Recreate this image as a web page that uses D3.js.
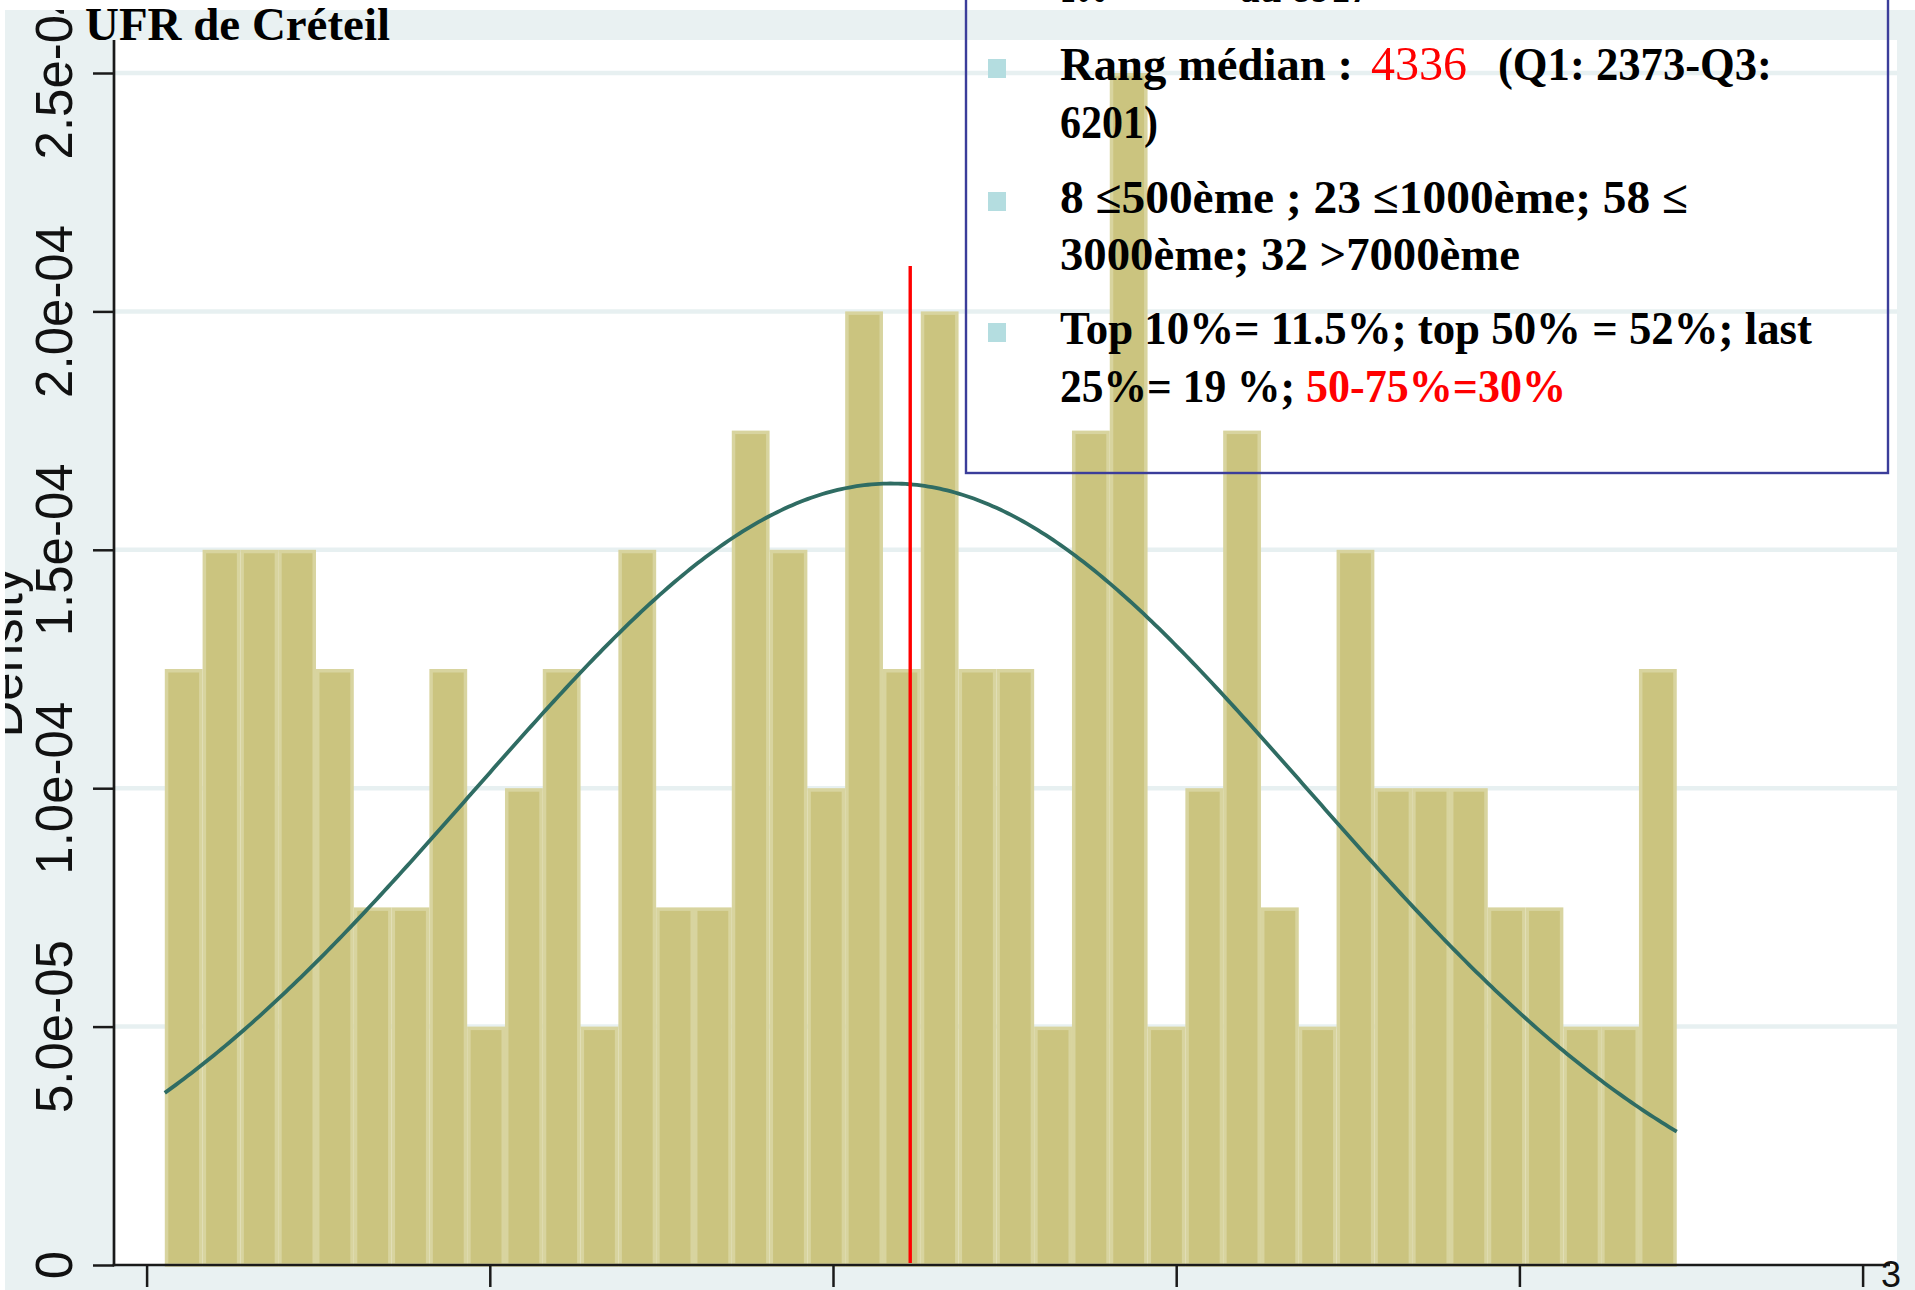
<!DOCTYPE html>
<html><head><meta charset="utf-8">
<script src="https://cdn.jsdelivr.net/npm/d3@7"></script>
<style>html,body{margin:0;padding:0;background:#fff;overflow:hidden}</style>
</head><body>
<svg id="c" width="1915" height="1290"></svg>
<script>
// ---- data ----
const densities = [1.25e-4,1.5e-4,1.5e-4,1.5e-4,1.25e-4,0.75e-4,0.75e-4,1.25e-4,0.5e-4,1.0e-4,
  1.25e-4,0.5e-4,1.5e-4,0.75e-4,0.75e-4,1.75e-4,1.5e-4,1.0e-4,2.0e-4,1.25e-4,
  2.0e-4,1.25e-4,1.25e-4,0.5e-4,1.75e-4,2.5e-4,0.5e-4,1.0e-4,1.75e-4,0.75e-4,
  0.5e-4,1.5e-4,1.0e-4,1.0e-4,1.0e-4,0.75e-4,0.75e-4,0.5e-4,0.5e-4,1.25e-4];
const rankRange = [106, 8917];          // histogram start / end (rank)
const normalMean = 4340;                 // fitted normal curve
const normalSd = 2434;
const markerRank = 4450;                 // red vertical line
const markerTop = 2.095e-4;
const xTicks = [0, 2000, 4000, 6000, 8000, 10000];
const yTicks = [0, 5e-5, 1e-4, 1.5e-4, 2e-4, 2.5e-4];
const yTickLabels = ["0", "5.0e-05", "1.0e-04", "1.5e-04", "2.0e-04", "2.5e-04"];
const yTitle = "Density";
const slideTitle = "UFR de Créteil";
const pageMark = "3";
const topCutText = [["106", 1060, 47], ["au 8917", 1240, 130]];
// text box lines: [text, x, width, baseline, color, weight, size]
const boxLines = [
  ["Rang médian :", 1060, 293, 80, "#000", "bold", 46],
  ["4336", 1371, 96, 80, "#ff0000", "normal", 49],
  ["(Q1: 2373-Q3:", 1498, 274, 80, "#000", "bold", 46],
  ["6201)", 1060, 98, 138, "#000", "bold", 46],
  ["8 ≤500ème ; 23 ≤1000ème; 58 ≤", 1060, 628, 213, "#000", "bold", 46],
  ["3000ème; 32 >7000ème", 1060, 460, 270, "#000", "bold", 46],
  ["Top 10%= 11.5%; top 50% = 52%; last", 1060, 752, 344, "#000", "bold", 46],
  ["25%= 19 %;", 1060, 235, 402, "#000", "bold", 46],
  ["50-75%=30%", 1306, 260, 402, "#ff0000", "bold", 46]
];
const bulletBaselines = [80, 213, 344];

// ---- drawing ----
const svg = d3.select("#c");
const x = d3.scaleLinear().domain([0, 10000]).range([146.6, 1862.6]);
const y = d3.scaleLinear().domain([0, 2.5e-4]).range([1265, 73]);
const plot = {l: 114, t: 40, r: 1897, b: 1265};

svg.append("rect").attr("width", 1915).attr("height", 1290).attr("fill", "#fff");
svg.append("clipPath").attr("id", "gr").append("rect")
  .attr("x", 5).attr("y", 10).attr("width", 1910).attr("height", 1280);
const g = svg.append("g").attr("clip-path", "url(#gr)");

g.append("rect").attr("x", 5).attr("y", 10).attr("width", 1910).attr("height", 1280).attr("fill", "#e9f1f2");
g.append("rect").attr("x", plot.l).attr("y", plot.t).attr("width", plot.r - plot.l).attr("height", plot.b - plot.t).attr("fill", "#fff");

// gridlines
g.selectAll(".grid").data(yTicks.slice(1)).enter().append("line")
  .attr("x1", plot.l).attr("x2", plot.r).attr("y1", d => y(d)).attr("y2", d => y(d))
  .attr("stroke", "#e7f0f1").attr("stroke-width", 4.5);

// bars
const n = densities.length;
const bw = (rankRange[1] - rankRange[0]) / n;
const sw = 3.5;
g.selectAll(".bar").data(densities).enter().append("rect")
  .attr("x", (d, i) => x(rankRange[0] + i * bw) + sw / 2)
  .attr("y", d => y(d) + sw / 2)
  .attr("width", (d, i) => x(rankRange[0] + (i + 1) * bw) - x(rankRange[0] + i * bw) - sw)
  .attr("height", d => y(0) - y(d) - sw / 2)
  .attr("fill", "#cbc47f").attr("stroke", "#d8d49f").attr("stroke-width", sw);

// normal curve
const pts = d3.range(0, 401).map(k => {
  const r = rankRange[0] + (rankRange[1] - rankRange[0]) * k / 400;
  const z = (r - normalMean) / normalSd;
  return [r, Math.exp(-z * z / 2) / (normalSd * Math.sqrt(2 * Math.PI))];
});
g.append("path").datum(pts)
  .attr("d", d3.line().x(d => x(d[0])).y(d => y(d[1])))
  .attr("fill", "none").attr("stroke", "#2f6c63").attr("stroke-width", 3.8);

// red marker line
g.append("line").attr("x1", x(markerRank)).attr("x2", x(markerRank))
  .attr("y1", y(markerTop)).attr("y2", y(0) - 2)
  .attr("stroke", "#ff0000").attr("stroke-width", 3.4);

// axes
const ya = g.append("g").attr("transform", `translate(${plot.l},0)`)
  .call(d3.axisLeft(y).tickValues(yTicks).tickSize(21).tickFormat(""));
ya.select(".domain").remove();
ya.selectAll(".tick line").attr("stroke", "#1a1a1a").attr("stroke-width", 2.5);
g.append("line").attr("x1", plot.l).attr("x2", plot.l).attr("y1", plot.t).attr("y2", plot.b + 1.2)
  .attr("stroke", "#1a1a1a").attr("stroke-width", 2.7);

const xa = g.append("g").attr("transform", `translate(0,${plot.b})`)
  .call(d3.axisBottom(x).tickValues(xTicks).tickSize(22).tickFormat(""));
xa.select(".domain").remove();
xa.selectAll(".tick line").attr("stroke", "#1a1a1a").attr("stroke-width", 2.5);
g.append("line").attr("x1", plot.l - 1.3).attr("x2", 1890).attr("y1", plot.b).attr("y2", plot.b)
  .attr("stroke", "#1a1a1a").attr("stroke-width", 2.7);

// y tick labels (rotated)
g.selectAll(".ylab").data(yTicks).enter().append("text")
  .attr("x", 72).attr("y", d => y(d))
  .attr("transform", d => `rotate(-90,72,${y(d)})`)
  .attr("text-anchor", "middle")
  .attr("font-family", "'Liberation Sans', Arial, sans-serif").attr("font-size", 51)
  .attr("fill", "#111").text((d, i) => yTickLabels[i]);

// y title
g.append("text").attr("x", 22).attr("y", (plot.t + plot.b) / 2)
  .attr("transform", `rotate(-90,22,${(plot.t + plot.b) / 2})`)
  .attr("text-anchor", "middle")
  .attr("font-family", "'Liberation Sans', Arial, sans-serif").attr("font-size", 51)
  .attr("fill", "#111").text(yTitle);

// page mark
g.append("text").attr("x", 1881).attr("y", 1287)
  .attr("font-family", "'Liberation Sans', Arial, sans-serif").attr("font-size", 36)
  .attr("fill", "#111").text(pageMark);

// ---- slide overlay ----
const serif = "'Liberation Serif', 'DejaVu Serif', serif";
svg.append("text").attr("x", 85).attr("y", 40)
  .attr("font-family", serif).attr("font-weight", "bold").attr("font-size", 46)
  .attr("textLength", 305).attr("lengthAdjust", "spacingAndGlyphs")
  .attr("fill", "#000").text(slideTitle);

svg.append("rect").attr("x", 966).attr("y", -20).attr("width", 1888 - 966).attr("height", 473 + 20)
  .attr("fill", "none").attr("stroke", "#3b3d9a").attr("stroke-width", 2.4);

topCutText.forEach(t => {
  svg.append("text").attr("x", t[1]).attr("y", 2)
    .attr("font-family", serif).attr("font-weight", "bold").attr("font-size", 46)
    .attr("textLength", t[2]).attr("lengthAdjust", "spacingAndGlyphs")
    .attr("fill", "#000").text(t[0]);
});

svg.selectAll(".bullet").data(bulletBaselines).enter().append("rect")
  .attr("x", 988).attr("y", d => d - 21).attr("width", 18).attr("height", 19)
  .attr("fill", "#b4dde0");

boxLines.forEach(l => {
  svg.append("text").attr("x", l[1]).attr("y", l[3])
    .attr("font-family", serif).attr("font-weight", l[5]).attr("font-size", l[6])
    .attr("textLength", l[2]).attr("lengthAdjust", "spacingAndGlyphs")
    .attr("fill", l[4]).text(l[0]);
});
</script>
</body></html>
